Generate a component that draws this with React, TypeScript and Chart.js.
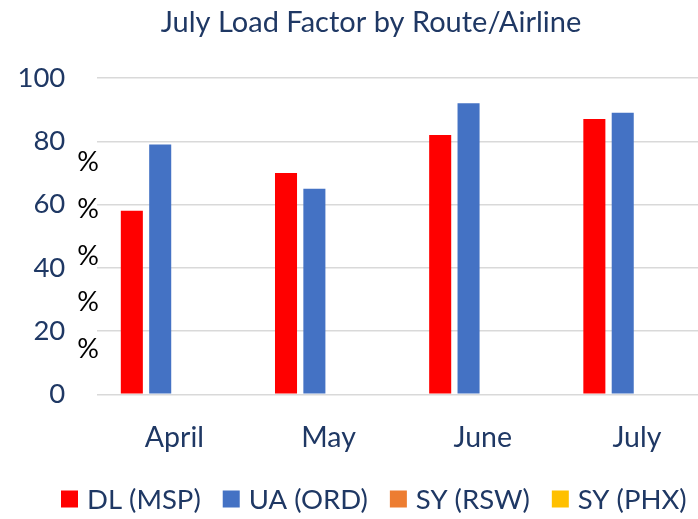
import React, { useEffect, useRef } from "react";
import { Chart, registerables } from "chart.js";

Chart.register(...registerables);

const categories = ["April", "May", "June", "July"];
const seriesNames = ["DL (MSP)", "UA (ORD)", "SY (RSW)", "SY (PHX)"];
const dlMsp = [58, 70, 82, 87];
const uaOrd = [79, 65, 92, 89];
const syRsw: (number | null)[] = [null, null, null, null];
const syPhx: (number | null)[] = [null, null, null, null];
const seriesColors = ["#FF0000", "#4472C4", "#ED7D31", "#FFC000"];
const yTicks = [0, 20, 40, 60, 80, 100];
const titleText = "July Load Factor by Route/Airline";
const strayPercentLabels = ["%", "%", "%", "%", "%"];

const NAVY = "#1F3864";
const FONT = "Lato";

const decorPlugin = {
  id: "decor",
  afterDraw(chart: any) {
    const ctx = chart.ctx as CanvasRenderingContext2D;
    ctx.save();
    // title
    ctx.fillStyle = NAVY;
    ctx.font = `29px ${FONT}`;
    ctx.textAlign = "center";
    ctx.textBaseline = "middle";
    ctx.fillText(titleText, 371, 23);
    // stray percent signs
    ctx.fillStyle = "#000000";
    ctx.font = `27px ${FONT}`;
    strayPercentLabels.forEach((s, i) => {
      ctx.fillText(s, 88, 162.5 + i * 46.7);
    });
    // legend
    ctx.font = `27.5px ${FONT}`;
    ctx.textAlign = "left";
    let x = 61;
    const cy = 499;
    chart.data.datasets.forEach((ds: any) => {
      ctx.fillStyle = ds.backgroundColor;
      ctx.fillRect(x, cy - 8.5, 17, 17);
      x += 17 + 9;
      ctx.fillStyle = NAVY;
      ctx.fillText(ds.label, x, cy + 1);
      x += ctx.measureText(ds.label).width + 22;
    });
    ctx.restore();
  },
};

export default function App() {
  const ref = useRef<HTMLCanvasElement | null>(null);

  useEffect(() => {
    if (!ref.current) return;
    const seriesData = [dlMsp, uaOrd, syRsw, syPhx];
    const chart = new Chart(ref.current, {
      type: "bar",
      data: {
        labels: categories,
        datasets: seriesNames.map((name, i) => ({
          label: name,
          data: seriesData[i] as any,
          backgroundColor: seriesColors[i],
          borderWidth: 0,
          categoryPercentage: 0.736,
          barPercentage: 0.777,
        })),
      },
      options: {
        responsive: false,
        animation: false,
        layout: { padding: { top: 78, left: 0, right: 0, bottom: 0 } },
        plugins: {
          legend: { display: false },
          title: { display: false },
          tooltip: { enabled: false },
        },
        scales: {
          x: {
            grid: { display: false, drawTicks: false },
            border: { display: false },
            ticks: {
              color: NAVY,
              font: { family: FONT, size: 28.5 },
              padding: 26,
              maxRotation: 0,
            },
            afterFit: (scale: any) => {
              scale.height = 519 - 394.3;
            },
          },
          y: {
            min: yTicks[0],
            max: yTicks[yTicks.length - 1],
            ticks: {
              stepSize: yTicks[1] - yTicks[0],
              color: NAVY,
              font: { family: FONT, size: 27.5 },
              padding: 32,
            },
            grid: { color: "#D9D9D9", lineWidth: 1.5, drawTicks: false },
            border: { display: false },
            afterFit: (scale: any) => {
              scale.width = 97.3;
            },
          },
        },
      },
      plugins: [decorPlugin],
    });
    return () => chart.destroy();
  }, []);

  return (
    <div
      style={{
        position: "fixed",
        left: 0,
        top: 0,
        width: 698,
        height: 519,
        overflow: "hidden",
        background: "#ffffff",
      }}
    >
      <canvas ref={ref} width={714} height={519} style={{ display: "block" }} />
    </div>
  );
}
